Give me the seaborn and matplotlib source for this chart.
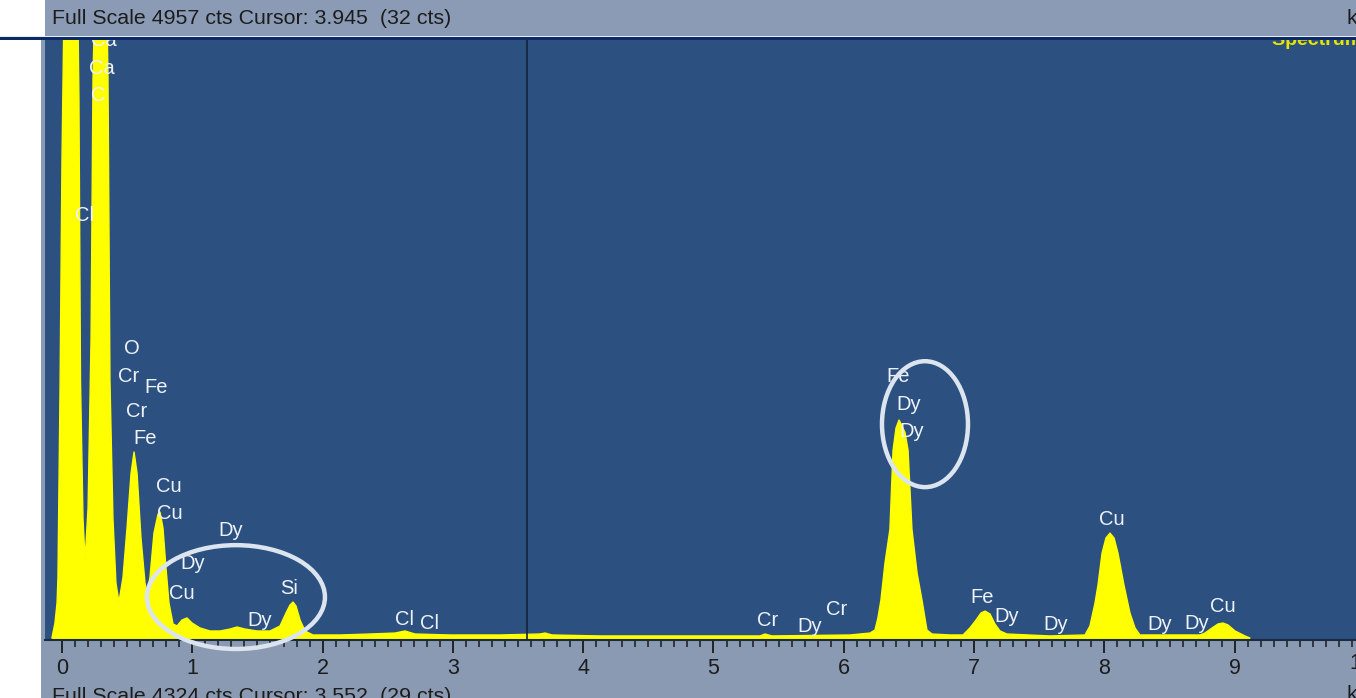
import numpy as np
import seaborn as sns
import matplotlib.pyplot as plt
from matplotlib.patches import Rectangle, Ellipse

# spectrum: energy (keV) and counts
energy = [-0.077, -0.054, -0.038, -0.031, -0.015, 0.000, 0.031, 0.069, 0.107, 0.130,
          0.142, 0.161, 0.177, 0.200, 0.223, 0.238, 0.269, 0.299, 0.330, 0.353,
          0.368, 0.391, 0.414, 0.437, 0.468, 0.499, 0.530, 0.553, 0.576, 0.606,
          0.637, 0.652, 0.675, 0.706, 0.737, 0.752, 0.775, 0.798, 0.821, 0.852,
          0.883, 0.921, 0.959, 0.998, 1.059, 1.136, 1.213, 1.289, 1.343, 1.404,
          1.497, 1.596, 1.673, 1.719, 1.750, 1.773, 1.796, 1.827, 1.865, 1.926,
          2.134, 2.364, 2.556, 2.632, 2.709, 2.978, 3.361, 3.668, 3.707, 3.761,
          4.129, 4.896, 5.357, 5.395, 5.449, 6.048, 6.201, 6.239, 6.262, 6.285,
          6.316, 6.354, 6.378, 6.401, 6.424, 6.447, 6.470, 6.493, 6.523, 6.562,
          6.600, 6.638, 6.677, 6.815, 6.915, 6.968, 7.015, 7.053, 7.084, 7.122,
          7.160, 7.199, 7.252, 7.582, 7.851, 7.889, 7.928, 7.951, 7.982, 8.012,
          8.043, 8.074, 8.104, 8.150, 8.196, 8.235, 8.273, 8.734, 8.772, 8.826,
          8.872, 8.910, 8.948, 9.003, 9.079, 9.117]
counts = [0, 124, 290, 500, 2070, 3970, 6500, 9000, 6500, 4470,
          2135, 990, 645, 1075, 2480, 4630, 6200, 7450, 6200, 4630,
          2135, 990, 455, 298, 500, 910, 1365, 1540, 1365, 830,
          455, 372, 500, 870, 1025, 1043, 910, 580, 290, 116,
          100, 149, 166, 124, 83, 58, 58, 74, 91, 74,
          58, 58, 99, 207, 273, 298, 265, 149, 58, 25,
          25, 33, 41, 58, 33, 25, 25, 33, 41, 25,
          17, 17, 17, 33, 17, 25, 41, 66, 166, 314,
          620, 900, 1555, 1740, 1805, 1755, 1700, 1555, 900, 540,
          314, 66, 33, 25, 25, 83, 149, 207, 223, 199,
          116, 58, 33, 17, 25, 99, 290, 439, 703, 828,
          869, 828, 703, 439, 207, 83, 25, 25, 41, 83,
          116, 124, 108, 58, 17, 0]

# element markers (label, keV, counts)
label_text = ["Ca", "Ca", "C", "Cl", "O", "Cr", "Fe", "Cr", "Fe", "Cu", "Cu",
              "Dy", "Dy", "Cu", "Dy", "Si", "Cl", "Cl", "Cr", "Dy", "Cr",
              "Fe", "Dy", "Dy", "Fe", "Dy", "Dy", "Cu", "Dy", "Dy", "Cu"]
label_kev = [0.322, 0.307, 0.276, 0.176, 0.537, 0.514, 0.721, 0.576, 0.637, 0.821, 0.829,
             1.297, 1.005, 0.921, 1.520, 1.742, 2.625, 2.817, 5.418, 5.741, 5.948,
             6.416, 6.500, 6.523, 7.061, 7.252, 7.628, 8.058, 8.427, 8.711, 8.910]
label_cts = [4948, 4717, 4493, 3500, 2400, 2168, 2077, 1878, 1655, 1258, 1034,
             894, 621, 372, 149, 414, 157, 124, 141, 99, 232,
             2168, 1936, 1713, 339, 174, 108, 985, 108, 124, 265]

ticks_kev = list(range(10))
full_scale = 4957
cursor_kev = 3.57

sns.set_theme(style="white")
plt.rcParams['font.family'] = ['Liberation Sans', 'DejaVu Sans']

W, H = 1356, 698
def fx(x):
    return x / W
def fy(y):
    return 1 - y / H

fig = plt.figure(figsize=(W / 100, H / 100), dpi=100, facecolor='white')

# window chrome
fig.add_artist(Rectangle((fx(45), fy(36)), 1 - fx(45), 36 / H, transform=fig.transFigure,
                         facecolor='#8b9bb5', edgecolor='none', zorder=-2))
fig.add_artist(Rectangle((0, fy(37)), 1, 1.2 / H, transform=fig.transFigure,
                         facecolor='#e8eef6', edgecolor='none', zorder=-1))
fig.add_artist(Rectangle((0, fy(39.5)), 1, 2.5 / H, transform=fig.transFigure,
                         facecolor='#0c2a68', edgecolor='none', zorder=-1))
fig.add_artist(Rectangle((fx(41), 0), 1 - fx(41), fy(39.5), transform=fig.transFigure,
                         facecolor='#8a9ab3', edgecolor='none', zorder=-2))

ax = fig.add_axes([fx(45), fy(640), 1 - fx(45), fy(39.5) - fy(640)])
ax.set_facecolor('#2c5180')

ax.fill_between(energy, counts, -20, color='#ffff00', lw=0, zorder=2)
sns.lineplot(x=energy, y=counts, color='#ffff00', lw=1, sort=False, estimator=None,
             ax=ax, zorder=2)
ax.axvline(cursor_kev, color='#142238', lw=1.2, zorder=3)

for t, x, y in zip(label_text, label_kev, label_cts):
    ax.text(x, y, t, ha='center', va='center', color='#eef2f8', fontsize=14.5,
            zorder=4, clip_on=True)

ax.text(9.286, 4945, "Spectrum 1", ha='left', va='center', color='#e6e600',
        fontsize=14, fontweight='bold', zorder=4, clip_on=True)

ax.add_patch(Ellipse((1.335, 339), 1.366, 860, fill=False, edgecolor='#dce5ef',
                     lw=3.2, zorder=5, clip_on=False))
ax.add_patch(Ellipse((6.623, 1771), 0.66, 1043, fill=False, edgecolor='#dce5ef',
                     lw=3.2, zorder=5, clip_on=False))

ax.set_xlim((45 - 62) / 130.3, (1356 - 62) / 130.3)
ax.set_ylim(-16.6, full_scale)
ax.set_xticks(ticks_kev)
ax.set_xticks(np.arange(0, 9.95, 0.1), minor=True)
ax.set_yticks([])
ax.tick_params(axis='x', which='major', length=9, width=1.3, color='#1a1a1a',
               direction='out', labelsize=15.5, labelcolor='#1c1c1c', pad=4, bottom=True)
ax.tick_params(axis='x', which='minor', length=5, width=1.1, color='#1a1a1a',
               direction='out', bottom=True)
ax.set_xlabel('')
ax.set_ylabel('')
for s in ['top', 'left', 'right']:
    ax.spines[s].set_visible(False)
ax.spines['bottom'].set_color('#1b2b45')
ax.spines['bottom'].set_linewidth(1.5)

# the "10" label sits mostly past the right edge of the window
ax.text(9.975, -0.022, "10", transform=ax.get_xaxis_transform(), ha='center', va='top',
        fontsize=15.5, color='#1c1c1c', clip_on=False)

fig.text(fx(52), fy(18), "Full Scale 4957 cts Cursor: 3.945  (32 cts)", ha='left',
         va='center', fontsize=15.4, color='#1c1c1c')
fig.text(fx(1347), fy(18), "keV", ha='left', va='center', fontsize=15.4, color='#1c1c1c')
fig.text(fx(52), fy(687), "Full Scale 4324 cts Cursor: 3.552  (29 cts)", ha='left',
         va='top', fontsize=15.4, color='#1c1c1c')
fig.text(fx(1347), fy(685), "keV", ha='left', va='top', fontsize=15.4, color='#1c1c1c')

fig.savefig('out.png', dpi=100)
